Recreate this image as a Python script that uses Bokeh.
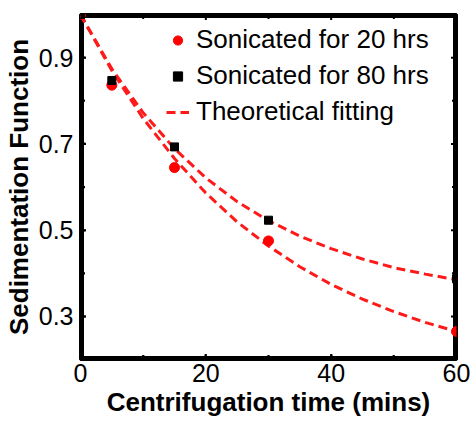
from bokeh.plotting import figure
from bokeh.models import Range1d, FixedTicker, Legend, LegendItem
from bokeh.embed import file_html
from bokeh.resources import INLINE

# Measured data
t_20 = [0, 5, 15, 30, 60]
s_20 = [1.0, 0.836, 0.645, 0.475, 0.265]
t_80 = [0, 5, 15, 30, 60]
s_80 = [1.0, 0.847, 0.693, 0.523, 0.387]

# Theoretical fitting curves
t_fit = [0, 5, 10, 15, 20, 25, 30, 35, 40, 45, 50, 55, 60]
fit_20 = [1.0, 0.870, 0.759, 0.666, 0.586, 0.519, 0.463, 0.415, 0.374, 0.340, 0.311, 0.286, 0.265]
fit_80 = [1.0, 0.874, 0.772, 0.689, 0.621, 0.566, 0.522, 0.486, 0.457, 0.433, 0.413, 0.398, 0.385]

x_ticks = [0, 20, 40, 60]
x_minor = [10, 30, 50]
y_ticks = [0.3, 0.5, 0.7, 0.9]
y_minor = [0.2, 0.4, 0.6, 0.8, 1.0]
x_lim = (0, 60)
y_lim = (0.2, 1.0)

FONT = "Liberation Sans"

p = figure(width=473, height=421, output_backend="svg", toolbar_location=None,
           x_range=Range1d(*x_lim), y_range=Range1d(*y_lim),
           min_border_left=80, min_border_right=17, min_border_top=14, min_border_bottom=62)
p.xgrid.visible = False
p.ygrid.visible = False
p.outline_line_color = "black"
p.outline_line_width = 3

for ax, ticks, minor in ((p.xaxis[0], x_ticks, x_minor), (p.yaxis[0], y_ticks, y_minor)):
    ax.ticker = FixedTicker(ticks=ticks, minor_ticks=minor)
    ax.axis_line_color = None
    ax.major_tick_in = 5
    ax.major_tick_out = 0
    ax.minor_tick_in = 4
    ax.minor_tick_out = 0
    ax.major_tick_line_width = 2
    ax.minor_tick_line_width = 2
    ax.major_tick_line_color = "black"
    ax.minor_tick_line_color = "black"
    ax.major_label_text_font = FONT
    ax.major_label_text_font_size = "25px"
    ax.major_label_text_color = "black"
    ax.axis_label_text_font = FONT
    ax.axis_label_text_font_style = "bold"
    ax.axis_label_text_font_size = "26px"
    ax.axis_label_text_color = "black"

p.xaxis[0].axis_label = "Centrifugation time (mins)"
p.xaxis[0].major_label_standoff = 4
p.xaxis[0].axis_label_standoff = 2
p.yaxis[0].axis_label = "Sedimentation Function"
p.yaxis[0].major_label_standoff = 7
p.yaxis[0].axis_label_standoff = 2

# Box frame as filled strips centred on the frame edges (outer half is clipped)
x_mid = (x_lim[0] + x_lim[1]) / 2
y_mid = (y_lim[0] + y_lim[1]) / 2
x_span = x_lim[1] - x_lim[0]
y_span = y_lim[1] - y_lim[0]
p.rect(x=list(x_lim), y=[y_mid, y_mid], width=7, width_units="screen",
       height=y_span, fill_color="black", line_color=None)
p.rect(x=[x_mid, x_mid], y=list(y_lim), width=x_span, height=7, height_units="screen",
       fill_color="black", line_color=None)

# Inward ticks on all four sides as thin filled bars centred on the frame edges
x_all = x_ticks + x_minor
x_len = [11] * len(x_ticks) + [9] * len(x_minor)
y_all = y_ticks + y_minor
y_len = [11] * len(y_ticks) + [9] * len(y_minor)
for edge in y_lim:
    p.rect(x=x_all, y=[edge] * len(x_all), width=2, height=x_len,
           width_units="screen", height_units="screen", fill_color="black", line_color=None)
for edge in x_lim:
    p.rect(x=[edge] * len(y_all), y=y_all, width=y_len, height=2,
           width_units="screen", height_units="screen", fill_color="black", line_color=None)

l1 = p.line(t_fit, fit_20, line_color="#ff1a1a", line_width=3, line_dash="9 5")
p.line(t_fit, fit_80, line_color="#ff1a1a", line_width=3, line_dash="9 5")
c1 = p.scatter(t_20, s_20, marker="circle", size=10, fill_color="#ff0000", line_color="#ff0000")
c2 = p.scatter(t_80, s_80, marker="square", size=8, fill_color="black", line_color="black")

legend = Legend(items=[
    LegendItem(label="Sonicated for 20 hrs", renderers=[c1]),
    LegendItem(label="Sonicated for 80 hrs", renderers=[c2]),
    LegendItem(label="Theoretical fitting", renderers=[l1]),
], location=(86, 232))
legend.border_line_color = None
legend.background_fill_alpha = 0
legend.label_text_font = FONT
legend.label_text_font_size = "26px"
legend.label_text_color = "black"
legend.glyph_width = 23
legend.glyph_height = 30
legend.label_height = 30
legend.spacing = 5
legend.padding = 0
legend.margin = 0
legend.label_standoff = 7
p.add_layout(legend, "center")

open("out.html", "w").write(file_html(p, INLINE))
